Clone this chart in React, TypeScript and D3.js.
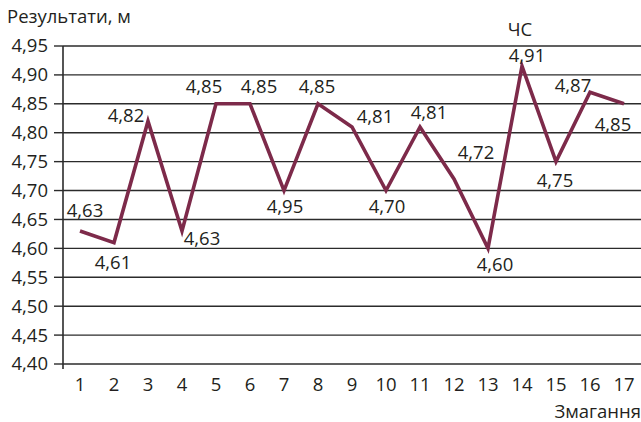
import React from "react";
import * as d3 from "d3";

const categories = ["1","2","3","4","5","6","7","8","9","10","11","12","13","14","15","16","17"];
const values = [4.63, 4.61, 4.82, 4.63, 4.85, 4.85, 4.70, 4.85, 4.81, 4.70, 4.81, 4.72, 4.60, 4.915, 4.75, 4.87, 4.85];
const pointLabels = ["4,63","4,61","4,82","4,63","4,85","4,85","4,95","4,85","4,81","4,70","4,81","4,72","4,60","4,91","4,75","4,87","4,85"];
// label offsets relative to point (dx, dy of baseline)
const labelOffsets: [number, number][] = [
  [5, -14], [-1, 26], [-22, 1], [20, 14], [-12, -11], [9, -11], [1, 22], [-1, -11],
  [23, -4], [1, 22], [9, -8], [22, -20], [7, 23], [5, -4], [-1, 25], [-17, 0], [-11, 27]
];
const yTicks = [4.40, 4.45, 4.50, 4.55, 4.60, 4.65, 4.70, 4.75, 4.80, 4.85, 4.90, 4.95];
const yTitle = "Результати, м";
const xTitle = "Змагання";
const note = "ЧС";
const noteIndex = 13;

export default function App() {
  const W = 641, H = 422;
  const left = 63, right = 641, top = 46, bottom = 364;
  const x = d3.scaleBand<string>().domain(categories).range([left, right]);
  const y = d3.scaleLinear().domain([4.40, 4.95]).range([bottom, top]);
  const cx = (i: number) => (x(categories[i]) as number) + x.bandwidth() / 2;
  const line = d3.line<number>().x((_, i) => cx(i)).y((d) => y(d));
  const font = "'Open Sans', sans-serif";
  const fs = 18.5;
  return (
    <svg width={W} height={H} style={{ position: "absolute", left: 0, top: 0, background: "#fff" }} fontFamily={font}>
      <text x={7} y={23} fontSize={fs} fill="#231f20">{yTitle}</text>
      {yTicks.map((t) => (
        <g key={t}>
          <line x1={left} x2={right} y1={y(t)} y2={y(t)} stroke="#2b2b2b" strokeWidth={1.4} />
          <line x1={54} x2={left} y1={y(t)} y2={y(t)} stroke="#2b2b2b" strokeWidth={1.4} />
          <text x={48} y={y(t)} dy="0.35em" textAnchor="end" fontSize={fs} fill="#231f20">
            {d3.format(".2f")(t).replace(".", ",")}
          </text>
        </g>
      ))}
      <line x1={left} x2={left} y1={top} y2={bottom + 5} stroke="#2b2b2b" strokeWidth={1.6} />
      {categories.map((c, i) => (
        <text key={c} x={cx(i)} y={391} textAnchor="middle" fontSize={fs} fill="#231f20">{c}</text>
      ))}
      <text x={641} y={418} textAnchor="end" fontSize={fs} fill="#231f20">{xTitle}</text>
      <path d={line(values) as string} fill="none" stroke="#7d2a4a" strokeWidth={3.6} strokeLinejoin="miter" />
      {values.map((v, i) => (
        <text key={i} x={cx(i) + labelOffsets[i][0]} y={y(v) + labelOffsets[i][1]} textAnchor="middle" fontSize={fs} fill="#231f20">
          {pointLabels[i]}
        </text>
      ))}
      <text x={cx(noteIndex) - 2} y={36} textAnchor="middle" fontSize={fs} fill="#231f20">{note}</text>
    </svg>
  );
}
